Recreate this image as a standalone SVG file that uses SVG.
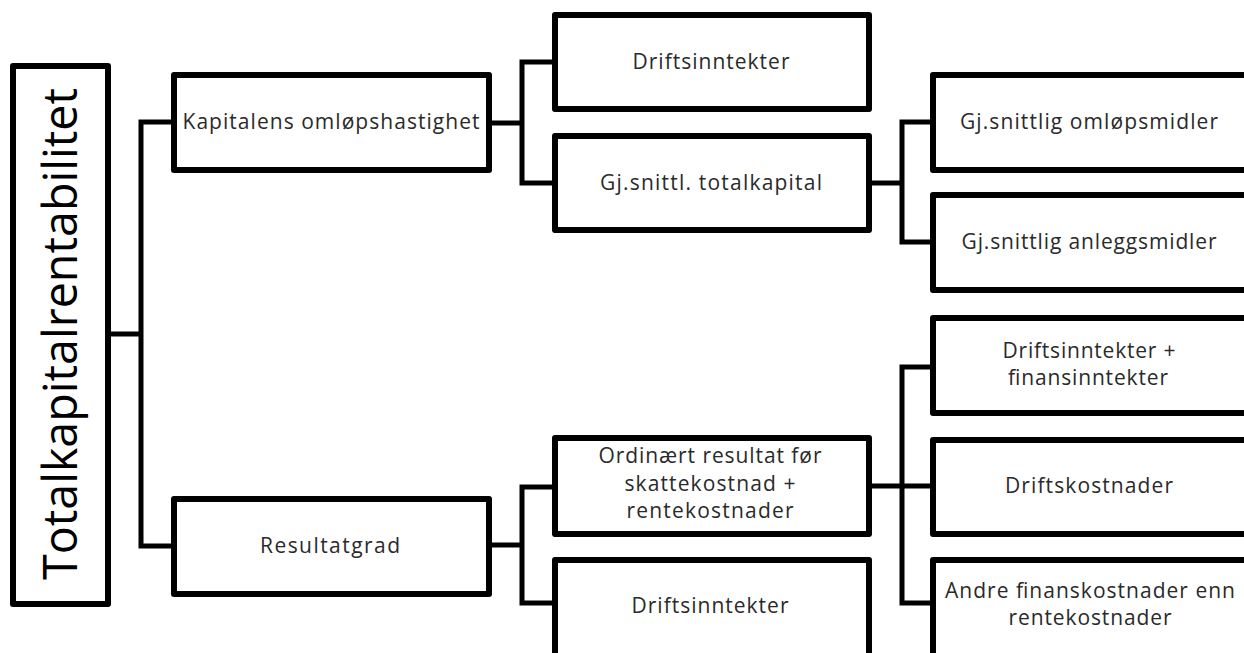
<svg xmlns="http://www.w3.org/2000/svg" width="1244" height="653" viewBox="0 0 1244 653">
<style>
.box{fill:#fff;stroke:#000;stroke-width:6;stroke-linejoin:round}
.con{fill:none;stroke:#000;stroke-width:5;stroke-linejoin:round;stroke-linecap:square}
.t{font-family:"Open Sans","Liberation Sans",sans-serif;font-size:21px;fill:#2a2a2a;text-anchor:middle}
.root{font-family:"Open Sans","Liberation Sans",sans-serif;font-size:48px;fill:#000;text-anchor:middle}
</style>
<rect width="1244" height="653" fill="#fff"/>
<g id="connectors">
<path class="con" d="M108,334 H141 M141,122 V546 M141,122 H174 M141,546 H174"/>
<path class="con" d="M489,123 H522 M522,62 V183 M522,62 H555 M522,183 H555"/>
<path class="con" d="M869,183 H902 M902,122 V242 M902,122 H933 M902,242 H933"/>
<path class="con" d="M489,545 H522 M522,487 V603 M522,487 H555 M522,603 H555"/>
<path class="con" d="M869,486 H902 M902,367 V603 M902,367 H933 M902,486 H933 M902,603 H933"/>
</g>
<g id="root">
<rect class="box" x="13" y="66" width="95" height="538"/>
<text class="root" transform="translate(77,334) rotate(-90)" textLength="492" lengthAdjust="spacingAndGlyphs">Totalkapitalrentabilitet</text>
</g>
<g id="kapitalens">
<rect class="box" x="174" y="75" width="315" height="95"/>
<text class="t" x="331" y="129" textLength="297" lengthAdjust="spacing">Kapitalens omløpshastighet</text>
</g>
<g id="resultatgrad">
<rect class="box" x="174" y="499" width="315" height="95"/>
<text class="t" x="330" y="553" textLength="140" lengthAdjust="spacing">Resultatgrad</text>
</g>
<g id="driftsinntekter1">
<rect class="box" x="555" y="15" width="314" height="94"/>
<text class="t" x="711" y="69" textLength="157" lengthAdjust="spacing">Driftsinntekter</text>
</g>
<g id="totalkapital">
<rect class="box" x="555" y="136" width="314" height="94"/>
<text class="t" x="711" y="190" textLength="222" lengthAdjust="spacing">Gj.snittl. totalkapital</text>
</g>
<g id="ordinaert">
<rect class="box" x="555" y="438" width="314" height="96"/>
<text class="t" x="710" y="463" textLength="223" lengthAdjust="spacing">Ordinært resultat før</text>
<text class="t" x="710" y="491" textLength="171" lengthAdjust="spacing">skattekostnad +</text>
<text class="t" x="710" y="518" textLength="167" lengthAdjust="spacing">rentekostnader</text>
</g>
<g id="driftsinntekter2">
<rect class="box" x="555" y="560" width="314" height="96"/>
<text class="t" x="710" y="613" textLength="157" lengthAdjust="spacing">Driftsinntekter</text>
</g>
<g id="omlopsmidler">
<rect class="box" x="933" y="75" width="318" height="95"/>
<text class="t" x="1089" y="129" textLength="258" lengthAdjust="spacing">Gj.snittlig omløpsmidler</text>
</g>
<g id="anleggsmidler">
<rect class="box" x="933" y="195" width="318" height="95"/>
<text class="t" x="1089" y="249" textLength="255" lengthAdjust="spacing">Gj.snittlig anleggsmidler</text>
</g>
<g id="finansinntekter">
<rect class="box" x="933" y="318" width="318" height="95"/>
<text class="t" x="1089" y="358" textLength="173" lengthAdjust="spacing">Driftsinntekter +</text>
<text class="t" x="1088" y="385" textLength="160" lengthAdjust="spacing">finansinntekter</text>
</g>
<g id="driftskostnader">
<rect class="box" x="933" y="440" width="318" height="94"/>
<text class="t" x="1089" y="493" textLength="168" lengthAdjust="spacing">Driftskostnader</text>
</g>
<g id="finanskostnader">
<rect class="box" x="933" y="560" width="318" height="96"/>
<text class="t" x="1090" y="598" textLength="290" lengthAdjust="spacing">Andre finanskostnader enn</text>
<text class="t" x="1090" y="625" textLength="163" lengthAdjust="spacing">rentekostnader</text>
</g>
</svg>
